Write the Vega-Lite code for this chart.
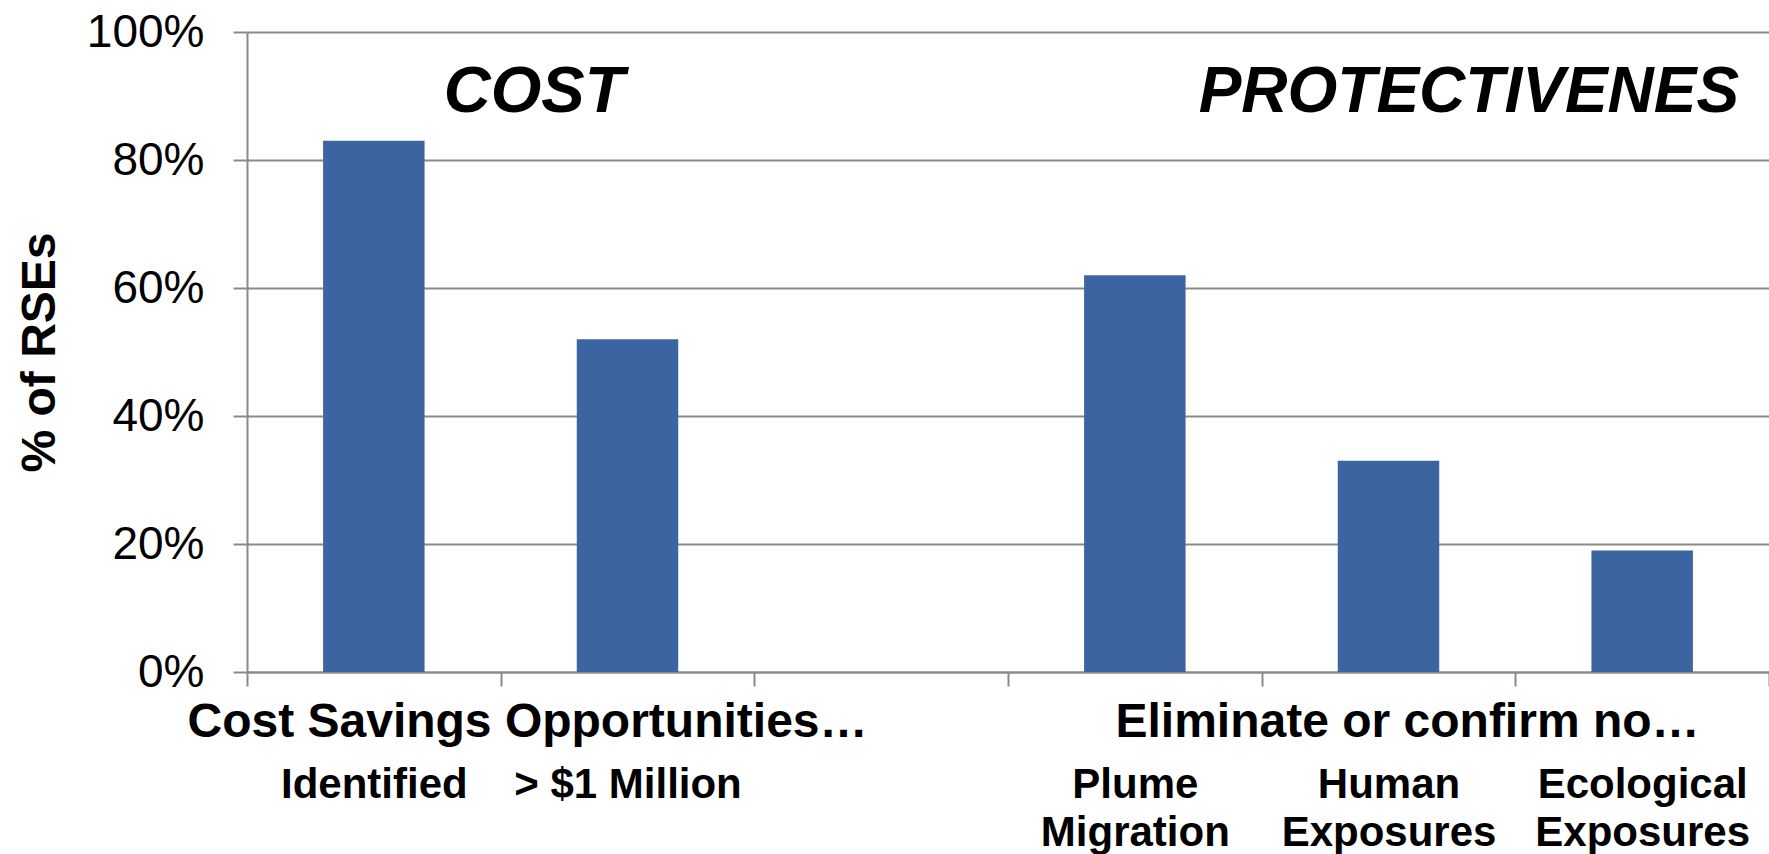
{
  "$schema": "https://vega.github.io/schema/vega-lite/v6.json",
  "description": "Share of RSEs reporting cost savings and protectiveness outcomes",
  "width": 1522,
  "height": 640,
  "autosize": "none",
  "padding": {"left": 247, "top": 32, "right": 0, "bottom": 182},
  "config": {
    "font": "Liberation Sans",
    "view": {"stroke": null},
    "axis": {
      "domainColor": "#8a8a8a",
      "domainWidth": 2,
      "tickColor": "#8a8a8a",
      "tickWidth": 2,
      "tickSize": 14,
      "gridColor": "#8a8a8a",
      "gridWidth": 2,
      "labelColor": "#000000",
      "titleColor": "#000000"
    }
  },
  "layer": [
    {
      "data": {
        "values": [
          {"label": "Identified", "group": "Cost Savings Opportunities…", "pct": 0.83},
          {"label": "> $1 Million", "group": "Cost Savings Opportunities…", "pct": 0.52},
          {"label": "gap", "group": null, "pct": null},
          {"label": "Plume|Migration", "group": "Eliminate or confirm no…", "pct": 0.62},
          {"label": "Human|Exposures", "group": "Eliminate or confirm no…", "pct": 0.33},
          {"label": "Ecological|Exposures", "group": "Eliminate or confirm no…", "pct": 0.19}
        ]
      },
      "mark": {"type": "bar", "color": "#3b64a0", "width": {"band": 0.4}},
      "encoding": {
        "x": {
          "field": "label",
          "type": "nominal",
          "sort": null,
          "scale": {
            "domain": ["Identified", "> $1 Million", "gap", "Plume|Migration", "Human|Exposures", "Ecological|Exposures"],
            "paddingInner": 0,
            "paddingOuter": 0
          },
          "axis": {
            "title": null,
            "labelAngle": 0,
            "labelFontSize": 42,
            "labelFontWeight": "bold",
            "labelPadding": 78,
            "labelLineHeight": 48,
            "labelLimit": 0,
            "labelOverlap": false,
            "labelExpr": "(datum.value == null || datum.value == 'gap') ? '' : split(datum.value, '|')",
            "tickBand": "extent",
            "grid": false
          }
        },
        "y": {
          "field": "pct",
          "type": "quantitative",
          "scale": {"domain": [0, 1], "nice": false},
          "axis": {
            "title": "% of RSEs",
            "titleFontSize": 48,
            "titleFontWeight": "bold",
            "titlePadding": 22,
            "values": [0, 0.2, 0.4, 0.6, 0.8, 1],
            "format": ".0%",
            "labelFontSize": 46,
            "labelPadding": 29,
            "grid": true
          }
        }
      }
    },
    {
      "data": {"values": [{"text": "COST", "slot": "Identified"}]},
      "mark": {"type": "text", "align": "left", "baseline": "alphabetic", "dx": 70, "fontSize": 65, "fontStyle": "italic", "fontWeight": "bold", "color": "#000000"},
      "encoding": {
        "x": {"field": "slot", "type": "nominal"},
        "y": {"datum": 0.875, "type": "quantitative"},
        "text": {"field": "text"}
      }
    },
    {
      "data": {"values": [{"text": "PROTECTIVENES", "slot": "Ecological|Exposures"}]},
      "mark": {"type": "text", "align": "right", "baseline": "alphabetic", "dx": 97, "fontSize": 64, "fontStyle": "italic", "fontWeight": "bold", "color": "#000000"},
      "encoding": {
        "x": {"field": "slot", "type": "nominal"},
        "y": {"datum": 0.875, "type": "quantitative"},
        "text": {"field": "text"}
      }
    },
    {
      "data": {"values": [{"text": "Cost Savings Opportunities…", "slot": "> $1 Million"}]},
      "mark": {"type": "text", "align": "center", "baseline": "alphabetic", "dx": -100, "fontSize": 48, "fontWeight": "bold", "color": "#000000"},
      "encoding": {
        "x": {"field": "slot", "type": "nominal"},
        "y": {"datum": -0.102, "type": "quantitative"},
        "text": {"field": "text"}
      }
    },
    {
      "data": {"values": [{"text": "Eliminate or confirm no…", "slot": "Human|Exposures"}]},
      "mark": {"type": "text", "align": "center", "baseline": "alphabetic", "dx": 19, "fontSize": 48, "fontWeight": "bold", "color": "#000000"},
      "encoding": {
        "x": {"field": "slot", "type": "nominal"},
        "y": {"datum": -0.102, "type": "quantitative"},
        "text": {"field": "text"}
      }
    }
  ]
}
